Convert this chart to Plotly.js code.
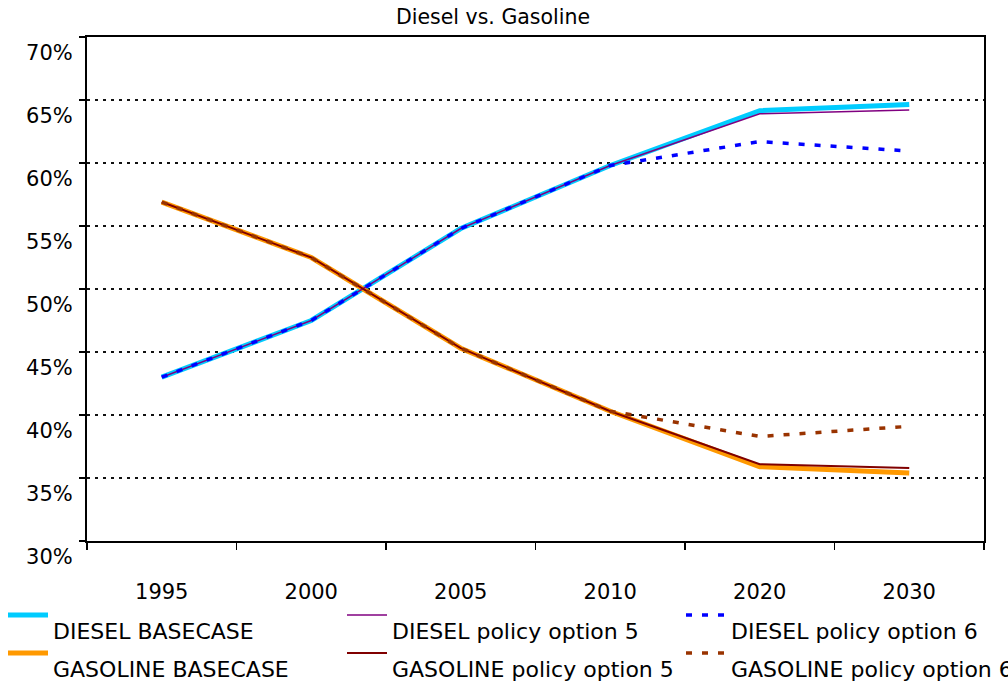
<!DOCTYPE html>
<html>
<head>
<meta charset="utf-8">
<script src="https://cdn.plot.ly/plotly-3.0.1.min.js"></script>
<style>html,body{margin:0;padding:0;background:#fff;}#chart{width:1008px;height:682px;}</style>
</head>
<body>
<div id="chart"></div>
<script>
const years = ["1995", "2000", "2005", "2010", "2020", "2030"];
const dieselBase = [43.0, 47.5, 54.8, 59.8, 64.15, 64.65];
const gasolineBase = [56.9, 52.5, 45.3, 40.3, 35.9, 35.4];
const dieselOpt5 = [43.0, 47.5, 54.8, 59.8, 63.9, 64.2];
const gasolineOpt5 = [56.9, 52.5, 45.3, 40.3, 36.1, 35.8];
const dieselOpt6 = [43.0, 47.5, 54.8, 59.8, 61.7, 60.95];
const gasolineOpt6 = [56.9, 52.5, 45.3, 40.3, 38.3, 39.1];
const names = ["DIESEL BASECASE", "GASOLINE BASECASE", "DIESEL policy option 5",
               "GASOLINE policy option 5", "DIESEL policy option 6", "GASOLINE policy option 6"];

const dash6 = "6px,10px";
const traces = [
  {y: dieselBase, name: names[0], line: {color: "#00CCFF", width: 5}, legend: "legend"},
  {y: gasolineBase, name: names[1], line: {color: "#FF9900", width: 5}, legend: "legend2"},
  {y: dieselOpt5, name: names[2], line: {color: "#800080", width: 1.5}, legend: "legend3"},
  {y: gasolineOpt5, name: names[3], line: {color: "#800000", width: 2}, legend: "legend4"},
  {y: dieselOpt6, name: names[4], line: {color: "#0000FF", width: 3.5, dash: dash6}, legend: "legend5"},
  {y: gasolineOpt6, name: names[5], line: {color: "#993300", width: 3.5, dash: dash6}, legend: "legend6"}
].map(t => Object.assign({x: years, type: "scatter", mode: "lines", hoverinfo: "skip"}, t,
  {name: "<br><span style='font-size:22px'>" + t.name + "</span>"}));

const FONT = "DejaVu Sans, Verdana, sans-serif";
function leg(x, top) {
  return {xref: "container", yref: "container", x: x, y: 1 - top/682, xanchor: "left", yanchor: "top",
          orientation: "v", bgcolor: "rgba(0,0,0,0)", borderwidth: 0, itemwidth: 40,
          valign: "top", font: {family: FONT, size: 14, color: "#000"}, itemclick: false};
}
const colX = [3/1008, 342/1008, 681/1008];
const rowTop = [599.5, 637.5];

const layout = {
  width: 1008, height: 682,
  margin: {l: 87, r: 24, t: 37, b: 141, autoexpand: false},
  paper_bgcolor: "#fff", plot_bgcolor: "#fff",
  font: {family: FONT, color: "#000"},
  title: {text: "Diesel vs. Gasoline", font: {family: FONT, size: 20.5, color: "#000"},
          xref: "container", x: 493/1008, xanchor: "center", yref: "container", y: 1 - 17/682, yanchor: "middle"},
  xaxis: {type: "category", range: [-0.5, 5.5], tickson: "boundaries", ticks: "outside", ticklen: 7,
          tickwidth: 1.5, tickcolor: "#000", showline: true, linecolor: "#000", linewidth: 2, mirror: true,
          showgrid: false, tickfont: {family: FONT, size: 21, color: "#000"}, ticklabelstandoff: 31,
          fixedrange: true},
  yaxis: {range: [30, 70], dtick: 5, tick0: 30, ticksuffix: "%", ticks: "outside", ticklen: 6, tickwidth: 1.5,
          tickcolor: "#000", showline: true, linecolor: "#000", linewidth: 2, mirror: true,
          showgrid: true, gridcolor: "#111", gridwidth: 2, griddash: "3px,5px", zeroline: false,
          tickfont: {family: FONT, size: 21, color: "#000"}, ticklabelshift: 16, ticklabelstandoff: 2,
          fixedrange: true},
  showlegend: true,
  legend: leg(colX[0], rowTop[0]),
  legend2: leg(colX[0], rowTop[1]),
  legend3: leg(colX[1], rowTop[0]),
  legend4: leg(colX[1], rowTop[1]),
  legend5: leg(colX[2], rowTop[0]),
  legend6: leg(colX[2], rowTop[1])
};

Plotly.newPlot("chart", traces, layout, {displayModeBar: false, staticPlot: true});
</script>
</body>
</html>
